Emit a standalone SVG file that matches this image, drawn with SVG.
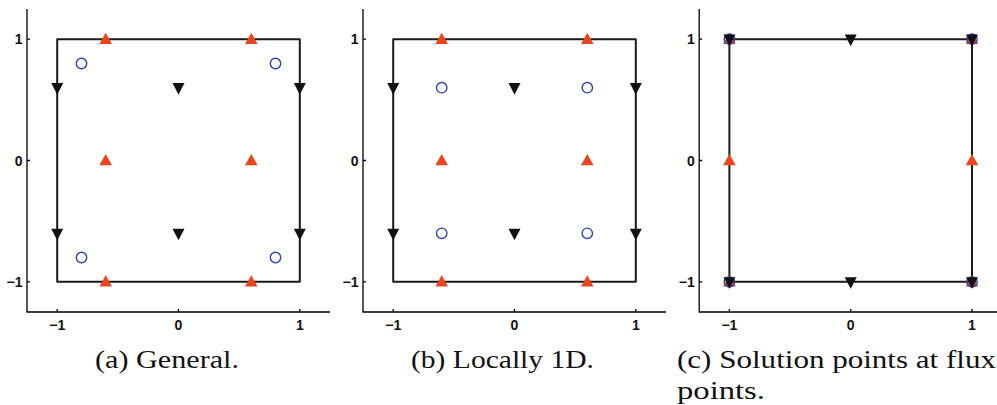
<svg xmlns="http://www.w3.org/2000/svg" xmlns:xlink="http://www.w3.org/1999/xlink" width="997" height="405" viewBox="0 0 997 405">
<style>
.ax{stroke:#000;stroke-width:1.3;fill:none}
.sq{stroke:#1a1a1a;stroke-width:2;fill:none;stroke-linejoin:round}
.tl{font-family:"Liberation Sans",Arial,sans-serif;font-weight:bold;font-size:14px;fill:#111}
.cap{font-family:"Liberation Serif","Times New Roman",serif;font-size:26px;fill:#111}
</style>
<defs>
<polygon id="up" points="0,-6.5 6.3,4.7 -6.3,4.7" fill="#e8461f"/>
<polygon id="dn" points="-6,-4.6 6,-4.6 0,7" fill="#111"/>
<circle id="ci" r="5.2" fill="none" stroke="#2b43b5" stroke-width="1.4"/>
<g id="axes">
<path class="ax" d="M-151.5,-151.5V151.5H151.5"/>
<path class="ax" d="M-121.3,151.5v-3M0,151.5v-3M121.3,151.5v-3M-151.5,-121.3h3M-151.5,0h3M-151.5,121.3h3"/>
<text class="tl" x="-121.3" y="169" text-anchor="middle">−1</text>
<text class="tl" x="0" y="169" text-anchor="middle">0</text>
<text class="tl" x="121.3" y="169" text-anchor="middle">1</text>
<text class="tl" x="-156" y="-116.3" text-anchor="end">1</text>
<text class="tl" x="-156" y="5" text-anchor="end">0</text>
<text class="tl" x="-156" y="126.3" text-anchor="end">−1</text>
</g>
</defs>
<g id="panel-a" transform="translate(178.5,160.5)">
<use xlink:href="#axes"/>
<rect class="sq" x="-121.3" y="-121.3" width="242.6" height="242.6"/>
<g id="a-flux-up">
<use xlink:href="#up" x="-72.8" y="-121.3"/><use xlink:href="#up" x="72.8" y="-121.3"/>
<use xlink:href="#up" x="-72.8" y="0"/><use xlink:href="#up" x="72.8" y="0"/>
<use xlink:href="#up" x="-72.8" y="121.3"/><use xlink:href="#up" x="72.8" y="121.3"/>
</g>
<g id="a-flux-dn">
<use xlink:href="#dn" x="-121.3" y="-72.8"/><use xlink:href="#dn" x="0" y="-72.8"/><use xlink:href="#dn" x="121.3" y="-72.8"/>
<use xlink:href="#dn" x="-121.3" y="72.8"/><use xlink:href="#dn" x="0" y="72.8"/><use xlink:href="#dn" x="121.3" y="72.8"/>
</g>
<g id="a-sol">
<use xlink:href="#ci" x="-97" y="-97"/><use xlink:href="#ci" x="97" y="-97"/>
<use xlink:href="#ci" x="-97" y="97"/><use xlink:href="#ci" x="97" y="97"/>
</g>
</g>
<g id="panel-b" transform="translate(514.5,160.5)">
<use xlink:href="#axes"/>
<rect class="sq" x="-121.3" y="-121.3" width="242.6" height="242.6"/>
<g id="b-flux-up">
<use xlink:href="#up" x="-72.8" y="-121.3"/><use xlink:href="#up" x="72.8" y="-121.3"/>
<use xlink:href="#up" x="-72.8" y="0"/><use xlink:href="#up" x="72.8" y="0"/>
<use xlink:href="#up" x="-72.8" y="121.3"/><use xlink:href="#up" x="72.8" y="121.3"/>
</g>
<g id="b-flux-dn">
<use xlink:href="#dn" x="-121.3" y="-72.8"/><use xlink:href="#dn" x="0" y="-72.8"/><use xlink:href="#dn" x="121.3" y="-72.8"/>
<use xlink:href="#dn" x="-121.3" y="72.8"/><use xlink:href="#dn" x="0" y="72.8"/><use xlink:href="#dn" x="121.3" y="72.8"/>
</g>
<g id="b-sol">
<use xlink:href="#ci" x="-72.8" y="-72.8"/><use xlink:href="#ci" x="72.8" y="-72.8"/>
<use xlink:href="#ci" x="-72.8" y="72.8"/><use xlink:href="#ci" x="72.8" y="72.8"/>
</g>
</g>
<g id="panel-c" transform="translate(850.7,160.5)">
<use xlink:href="#axes"/>
<rect class="sq" x="-121.3" y="-121.3" width="242.6" height="242.6"/>
<g id="c-flux-up">
<use xlink:href="#up" x="-121.3" y="-121.3"/><use xlink:href="#up" x="121.3" y="-121.3"/>
<use xlink:href="#up" x="-121.3" y="0"/><use xlink:href="#up" x="121.3" y="0"/>
<use xlink:href="#up" x="-121.3" y="121.3"/><use xlink:href="#up" x="121.3" y="121.3"/>
</g>
<g id="c-sol">
<use xlink:href="#ci" x="-121.3" y="-121.3"/><use xlink:href="#ci" x="121.3" y="-121.3"/>
<use xlink:href="#ci" x="-121.3" y="121.3"/><use xlink:href="#ci" x="121.3" y="121.3"/>
</g>
<g id="c-flux-dn">
<use xlink:href="#dn" x="-121.3" y="-121.3"/><use xlink:href="#dn" x="0" y="-121.3"/><use xlink:href="#dn" x="121.3" y="-121.3"/>
<use xlink:href="#dn" x="-121.3" y="121.3"/><use xlink:href="#dn" x="0" y="121.3"/><use xlink:href="#dn" x="121.3" y="121.3"/>
</g>
</g>
<g id="captions">
<text class="cap" x="95" y="368" textLength="144" lengthAdjust="spacingAndGlyphs">(a) General.</text>
<text class="cap" x="411" y="368" textLength="183" lengthAdjust="spacingAndGlyphs">(b) Locally 1D.</text>
<text class="cap" x="677" y="368" textLength="319" lengthAdjust="spacingAndGlyphs">(c) Solution points at flux</text>
<text class="cap" x="677" y="399" textLength="88" lengthAdjust="spacingAndGlyphs">points.</text>
</g>
</svg>
